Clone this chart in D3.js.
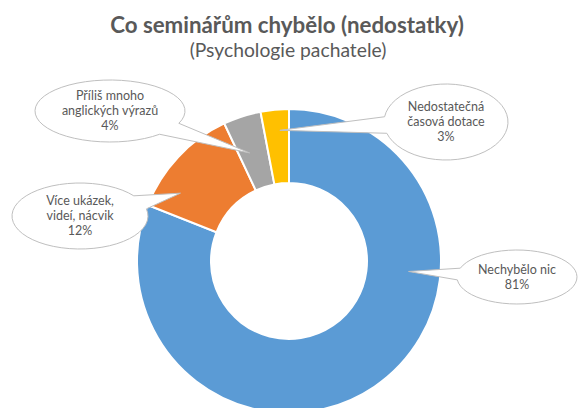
<!DOCTYPE html>
<html>
<head>
<meta charset="utf-8">
<script src="https://cdn.jsdelivr.net/npm/d3@7"></script>
<style>
  body { margin: 0; background: #fff; }
  svg { display: block; font-family: Lato, "Open Sans", sans-serif; }
</style>
</head>
<body>
<svg id="chart" viewBox="0 0 578 408" width="578" height="408"></svg>
<script>
// data
const categories = ["Nechybělo nic", "Více ukázek, videí, nácvik", "Příliš mnoho anglických výrazů", "Nedostatečná časová dotace"];
const values = [81, 12, 4, 3];
const labelLines = [
    ["Nechybělo nic", "81%"],
    ["Více ukázek,", "videí, nácvik", "12%"],
    ["Příliš mnoho", "anglických výrazů", "4%"],
    ["Nedostatečná", "časová dotace", "3%"]
];
const colors = ["#5B9BD5", "#ED7D31", "#A5A5A5", "#FFC000"];

// callout layout (ellipse centre, radii, pointer tip angle in degrees)
const callouts = [
    { cx: 517, cy: 277, rx: 60, ry: 27, tipAngle: 95, tipR: 120 },
    { cx: 80, cy: 216, rx: 68, ry: 33, tipAngle: 302, tipR: 128 },
    { cx: 110, cy: 111, rx: 75, ry: 31, tipAngle: 340, tipR: 115 },
    { cx: 446, cy: 122, rx: 62, ry: 38, tipAngle: 356, tipR: 131 }
];

const svg = d3.select("#chart");
const cx = 289, cy = 261;
const outerR = 152, innerR = 78;

// title
svg.append("text")
    .attr("x", 287).attr("y", 33)
    .attr("text-anchor", "middle")
    .style("font-size", "22.3px")
    .style("font-weight", "bold")
    .attr("fill", "#595959")
    .text("Co seminářům chybělo (nedostatky)");

svg.append("text")
    .attr("x", 288).attr("y", 57)
    .attr("text-anchor", "middle")
    .style("font-size", "19.3px")
    .attr("fill", "#595959")
    .text("(Psychologie pachatele)");

const pie = d3.pie().sort(null).value(d => d)(values);
const arc = d3.arc().innerRadius(innerR).outerRadius(outerR);

const g = svg.append("g").attr("transform", `translate(${cx},${cy})`);

g.selectAll("path.slice")
    .data(pie)
    .enter()
    .append("path")
    .attr("class", "slice")
    .attr("d", arc)
    .attr("fill", (d, i) => colors[i])
    .attr("stroke", "#fff")
    .attr("stroke-width", 2);

// callouts
function calloutPath(c, tx, ty) {
    const t0 = Math.atan2((ty - c.cy) / c.ry, (tx - c.cx) / c.rx);
    const delta = 0.22;
    const p1 = [c.cx + c.rx * Math.cos(t0 + delta), c.cy + c.ry * Math.sin(t0 + delta)];
    const p2 = [c.cx + c.rx * Math.cos(t0 - delta), c.cy + c.ry * Math.sin(t0 - delta)];
    return `M${p1[0]},${p1[1]} A${c.rx},${c.ry} 0 1 1 ${p2[0]},${p2[1]} L${tx},${ty} Z`;
}

const callG = svg.selectAll("g.callout")
    .data(callouts)
    .enter()
    .append("g")
    .attr("class", "callout");

callG.append("path")
    .attr("d", c => {
        const p = d3.pointRadial(c.tipAngle * Math.PI / 180, c.tipR);
        return calloutPath(c, cx + p[0], cy + p[1]);
    })
    .attr("fill", "#fff")
    .attr("stroke", "#BFBFBF")
    .attr("stroke-width", 1);

callG.each(function(c, i) {
    const lines = labelLines[i];
    const lh = 15;
    const y0 = c.cy - (lines.length - 1) * lh / 2 + 4;
    const t = d3.select(this).append("text")
        .attr("text-anchor", "middle")
        .style("font-size", "12.5px")
        .attr("fill", "#595959");
    lines.forEach((l, j) => {
        t.append("tspan")
            .attr("x", c.cx)
            .attr("y", y0 + j * lh)
            .text(l);
    });
});
</script>
</body>
</html>
